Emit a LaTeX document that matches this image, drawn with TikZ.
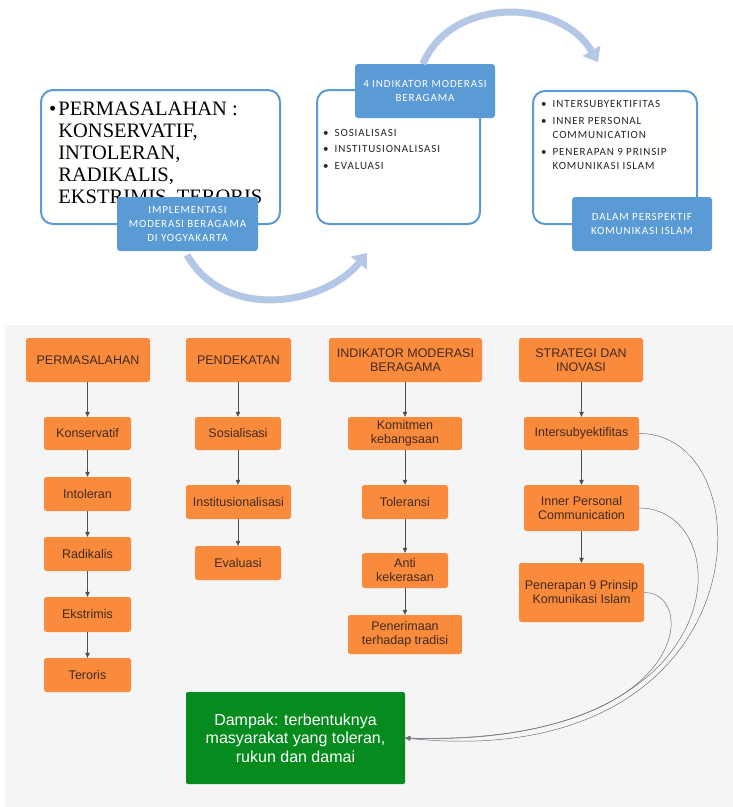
\documentclass[tikz,border=0pt]{standalone}
\usepackage{fontspec}
\setmainfont{Liberation Sans}
\newfontfamily\bigserif{Liberation Serif}
\newfontfamily\calib[LetterSpace=8]{Carlito}
\usetikzlibrary{arrows.meta}

\definecolor{tabblue}{HTML}{5B9BD5}
\definecolor{arcblue}{HTML}{B4C7E7}
\definecolor{orangebox}{HTML}{FA8A3C}
\definecolor{greenbox}{HTML}{068B1E}
\definecolor{panelgray}{HTML}{F5F5F5}
\definecolor{linkgray}{HTML}{4A4F5C}
\definecolor{labeltext}{HTML}{3F2A1E}

\begin{document}
\begin{tikzpicture}[x=1pt,y=-1pt,
  frame/.style={draw=tabblue, line width=2pt, fill=white, rounded corners=12pt, inner sep=0pt},
  tab/.style={fill=tabblue, rounded corners=3pt, text=white, inner sep=0pt,
    font=\calib\fontsize{11}{14}\selectfont, align=center},
  listtext/.style={anchor=base west, inner sep=0pt, text=black!85},
  bigarc/.style={draw=arcblue, line width=7pt, -{Triangle[width=20pt,length=13pt]}},
  obox/.style={fill=orangebox, rounded corners=2.5pt, text=labeltext, inner sep=0pt,
    font=\fontsize{12.5}{14}\selectfont, align=center},
  gbox/.style={fill=greenbox, rounded corners=2pt, text=white, inner sep=0pt,
    font=\fontsize{16}{18.5}\selectfont, align=center},
  link/.style={draw=linkgray, line width=0.6pt, -{Triangle[width=4.5pt,length=5pt]}},
  curvelink/.style={draw=linkgray!80, line width=0.5pt, -{Triangle[width=4.5pt,length=5pt]}},
]
\useasboundingbox (0,0) rectangle (733,807);

% ---------- upper cycle ----------
\node[frame, minimum width=239pt, minimum height=134pt] (f1) at (160.5,157) {};
\node[listtext, font=\bigserif\fontsize{20.5}{22}\selectfont, text=black] (t1) at (49,115)
  {\begin{tabular}[t]{@{}l@{\hspace{2pt}}l@{}}
   \textbullet & PERMASALAHAN :\\
   & KONSERVATIF,\\
   & INTOLERAN,\\
   & RADIKALIS,\\
   & EKSTRIMIS, TERORIS
   \end{tabular}};
\node[tab, minimum width=141pt, minimum height=54pt] (tab1) at (187.5,224)
  {IMPLEMENTASI\\MODERASI BERAGAMA\\DI YOGYAKARTA};

\node[frame, minimum width=163pt, minimum height=134pt] (f2) at (398.5,157) {};
\node[tab, minimum width=140pt, minimum height=54pt] (tab2) at (425,91)
  {4 INDIKATOR MODERASI\\BERAGAMA};
\node[listtext, font=\calib\fontsize{11}{16.5}\selectfont] (t2) at (323,136)
  {\begin{tabular}[t]{@{}l@{\hspace{6pt}}l@{}}
   \textbullet & SOSIALISASI\\
   \textbullet & INSTITUSIONALISASI\\
   \textbullet & EVALUASI
   \end{tabular}};

\node[frame, minimum width=164pt, minimum height=133pt] (f3) at (615,157.5) {};
\node[listtext, font=\calib\fontsize{11}{14.5}\selectfont] (t3) at (541,107.5)
  {\begin{tabular}[t]{@{}l@{\hspace{6pt}}l@{}}
   \textbullet & INTERSUBYEKTIFITAS\\[2pt]
   \textbullet & INNER PERSONAL\\
   & COMMUNICATION\\[2pt]
   \textbullet & PENERAPAN 9 PRINSIP\\
   & KOMUNIKASI ISLAM
   \end{tabular}};
\node[tab, minimum width=140pt, minimum height=54pt] (tab3) at (642,224)
  {DALAM PERSPEKTIF\\KOMUNIKASI ISLAM};

\coordinate (a1s) at (187,255);
\coordinate (a1e) at (367,253);
\coordinate (a2s) at (423,64);
\coordinate (a2e) at (598,62);
\draw[bigarc] (a1s) .. controls (225,322) and (325,305) .. (a1e);
\draw[bigarc] (a2s) .. controls (450,-3) and (560,-3) .. (a2e);

% ---------- lower flow chart ----------
\fill[panelgray] (5,325) rectangle (733,807);

\node[obox, minimum width=124pt, minimum height=44pt] (h1) at (88,360) {PERMASALAHAN};
\node[obox, minimum width=105pt, minimum height=44pt] (h2) at (238.5,360) {PENDEKATAN};
\node[obox, minimum width=153pt, minimum height=44pt] (h3) at (405.5,360) {INDIKATOR MODERASI\\BERAGAMA};
\node[obox, minimum width=124pt, minimum height=44pt] (h4) at (581,360) {STRATEGI DAN\\INOVASI};

\node[obox, minimum width=87pt, minimum height=33pt] (p1) at (87.5,433.5) {Konservatif};
\node[obox, minimum width=87pt, minimum height=34pt] (p2) at (87.5,494) {Intoleran};
\node[obox, minimum width=87pt, minimum height=34pt] (p3) at (87.5,554) {Radikalis};
\node[obox, minimum width=87pt, minimum height=35pt] (p4) at (87.5,614.5) {Ekstrimis};
\node[obox, minimum width=87pt, minimum height=34pt] (p5) at (87.5,675) {Teroris};

\node[obox, minimum width=86pt, minimum height=33pt] (q1) at (238,433.5) {Sosialisasi};
\node[obox, minimum width=105pt, minimum height=34pt] (q2) at (238.5,502) {Institusionalisasi};
\node[obox, minimum width=86pt, minimum height=34pt] (q3) at (238,563) {Evaluasi};

\node[obox, minimum width=114pt, minimum height=33pt] (r1) at (405,433.5) {Komitmen\\kebangsaan};
\node[obox, minimum width=86pt, minimum height=34pt] (r2) at (405,502) {Toleransi};
\node[obox, minimum width=86pt, minimum height=35pt] (r3) at (405,570.5) {Anti\\kekerasan};
\node[obox, minimum width=114pt, minimum height=39pt] (r4) at (405,634.5) {Penerimaan\\terhadap tradisi};

\node[obox, minimum width=115pt, minimum height=33pt] (s1) at (581.5,433.5) {Intersubyektifitas};
\node[obox, minimum width=115pt, minimum height=46pt] (s2) at (581.5,508) {Inner Personal\\Communication};
\node[obox, minimum width=125pt, minimum height=59pt] (s3) at (581.5,592.5) {Penerapan 9 Prinsip\\Komunikasi Islam};

\node[gbox, minimum width=219pt, minimum height=92pt] (g) at (295.5,738)
  {Dampak: terbentuknya\\masyarakat yang toleran,\\rukun dan damai};

\draw[link] (h1.south -| p1) -- (p1);
\draw[link] (p1) -- (p2);
\draw[link] (p2) -- (p3);
\draw[link] (p3) -- (p4);
\draw[link] (p4) -- (p5);
\draw[link] (h2.south -| q1) -- (q1);
\draw[link] (q1) -- (q2.north -| q1);
\draw[link] (q2.south -| q1) -- (q3);
\draw[link] (h3.south -| r1) -- (r1);
\draw[link] (r1) -- (r2);
\draw[link] (r2) -- (r3);
\draw[link] (r3) -- (r4);
\draw[link] (h4.south -| s1) -- (s1);
\draw[link] (s1) -- (s2);
\draw[link] (s2) -- (s3.north -| s2);

\draw[curvelink] (s1.east) .. controls (770,433) and (765,775) .. (g.east);
\draw[curvelink] (s2.east) .. controls (740,508) and (740,750) .. (g.east);
\draw[curvelink] (s3.east) .. controls (700,592) and (690,745) .. (g.east);
\end{tikzpicture}
\end{document}
